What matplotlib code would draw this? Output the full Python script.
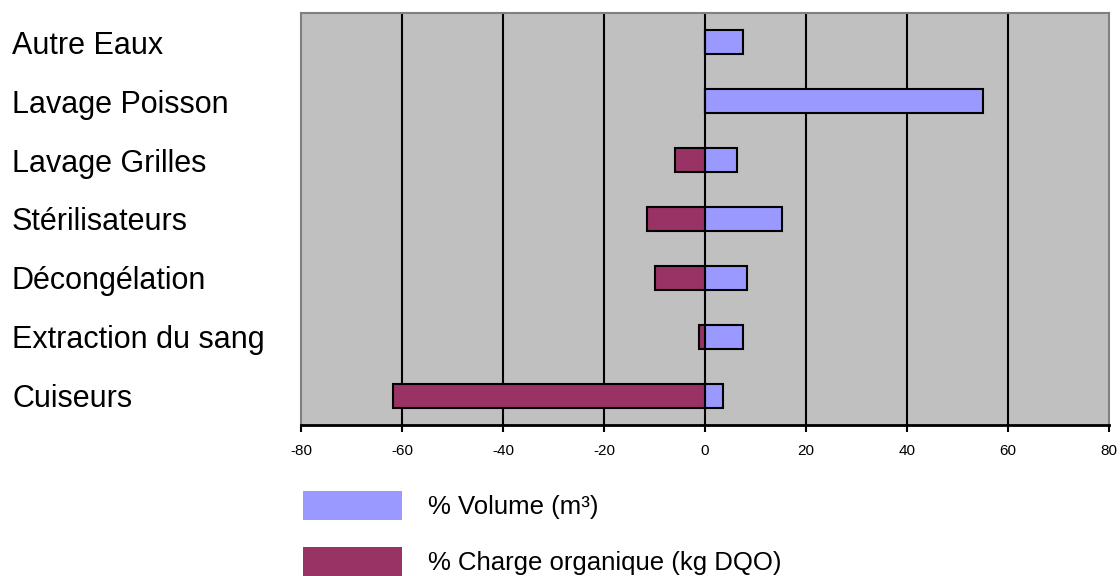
import matplotlib
matplotlib.use("Agg")
import matplotlib.pyplot as plt
import numpy as np

plt.rcParams['font.family'] = ['Liberation Sans', 'DejaVu Sans']

categories = ["Autre Eaux", "Lavage Poisson", "Lavage Grilles", "Stérilisateurs",
              "Décongélation", "Extraction du sang", "Cuiseurs"]
volume = [7.6, 55.1, 6.4, 15.2, 8.4, 7.6, 3.6]
charge = [0.0, 0.0, -5.9, -11.5, -9.9, -1.2, -61.8]
xticks = [-80, -60, -40, -20, 0, 20, 40, 60, 80]
labels = ["% Volume (m³)", "% Charge organique (kg DQO)"]

col_vol = "#9999FF"
col_chg = "#993366"

fig = plt.figure(figsize=(11.2, 5.76), dpi=100)
ax = fig.add_axes([301/1120, 1-425/576, (1109-301)/1120, (425-13)/576])
ax.set_facecolor("#C0C0C0")

y = np.arange(len(categories))
h = 0.41
b1 = ax.barh(y, volume, height=h, color=col_vol, edgecolor="black", linewidth=1.5, zorder=3, label=labels[0])
b2 = ax.barh(y, charge, height=h, color=col_chg, edgecolor="black", linewidth=1.5, zorder=3, label=labels[1])

ax.set_xlim(-80, 80)
ax.set_ylim(len(categories) - 0.5, -0.5)
ax.set_xticks(xticks)
ax.set_xticklabels([str(v) for v in xticks], fontsize=11)
ax.tick_params(axis='x', direction='out', length=5, width=1.5, color='black', pad=8.5)
ax.grid(axis='x', color='black', linewidth=1.5, zorder=1)
ax.set_axisbelow(True)
gl = ax.get_xgridlines()
gl[0].set_visible(False)
gl[-1].set_visible(False)

ax.set_yticks(y)
ax.set_yticklabels(categories, fontsize=22, ha='left')
ax.tick_params(axis='y', length=0, pad=289*72/100)

for side in ['top', 'left', 'right']:
    ax.spines[side].set_color('#808080')
    ax.spines[side].set_linewidth(1.5)
ax.spines['bottom'].set_color('black')
ax.spines['bottom'].set_linewidth(2)

fs = 18.5
fspx = fs * 100 / 72
leg = fig.legend(handles=[b1, b2], labels=labels, loc='upper left',
                 bbox_to_anchor=(303/1120, 1 - 491/576), frameon=False,
                 fontsize=fs, handlelength=99/fspx, handleheight=35/fspx,
                 handletextpad=26/fspx, labelspacing=1.05, borderpad=0, borderaxespad=0)
for p in leg.get_patches():
    p.set_edgecolor('none')
    p.set_linewidth(0)

fig.savefig("out.png", dpi=100)
